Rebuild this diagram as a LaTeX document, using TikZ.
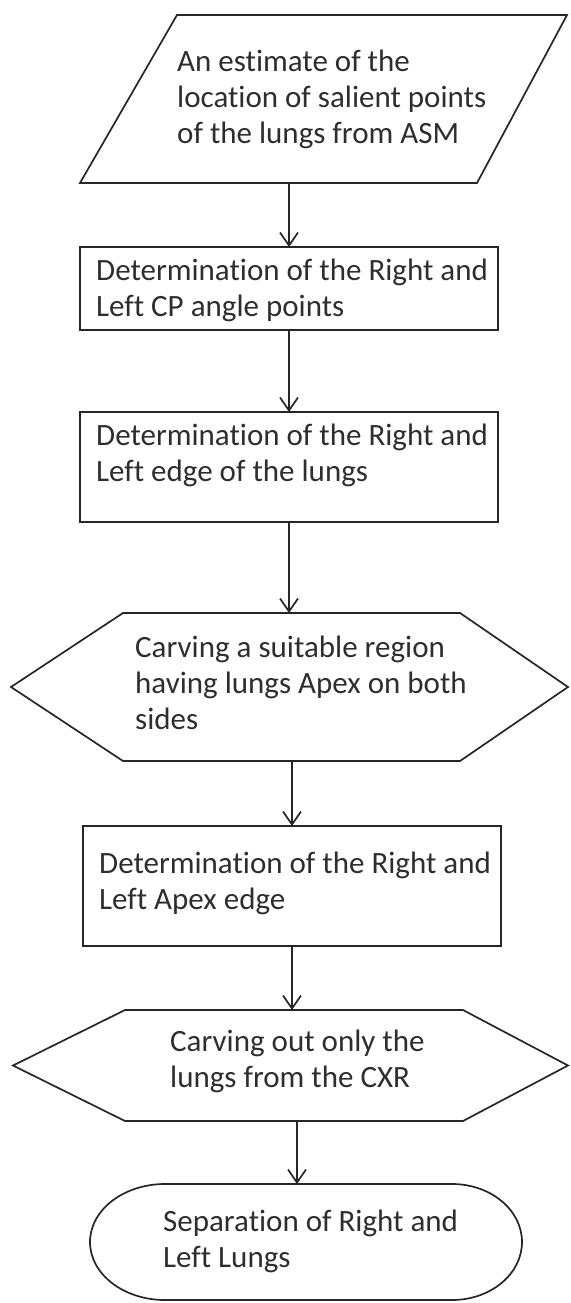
\documentclass[tikz,border=0pt]{standalone}
\usepackage{fontspec}
\setmainfont{Carlito}[Ligatures=NoCommon]
\usetikzlibrary{arrows.meta,calc}
\begin{document}
\begin{tikzpicture}[x=1pt,y=-1pt,
  outline/.style={draw=black!85, line width=1.7pt, line join=miter},
  frame/.style={inner sep=0pt, outer sep=0pt},
  txt/.style={anchor=west, align=left, inner sep=0pt, text=black!82, font=\fontsize{31}{36}\selectfont},
  flow/.style={draw=black!85, line width=1.7pt, -{Straight Barb[length=13pt,width=18pt]}}]
\useasboundingbox (0,0) rectangle (570,1303);

% shapes
\node[frame, minimum width=487pt, minimum height=168pt] (para) at (323.5,99) {};
\draw[outline] ($(para.north west)+(97,0)$) -- (para.north east) -- ($(para.south east)+(-90,0)$) -- (para.south west) -- cycle;

\node[frame, outline, minimum width=418pt, minimum height=83pt] (box1) at (289,288.5) {};
\node[frame, outline, minimum width=418pt, minimum height=110pt] (box2) at (289,467) {};

\node[frame, minimum width=557pt, minimum height=148pt] (hex1) at (289.5,687) {};
\draw[outline] ($(hex1.north west)+(112,0)$) -- ($(hex1.north east)+(-108,0)$) -- (hex1.east) -- ($(hex1.south east)+(-108,0)$) -- ($(hex1.south west)+(112,0)$) -- (hex1.west) -- cycle;

\node[frame, outline, minimum width=418pt, minimum height=120pt] (box3) at (292,886) {};

\node[frame, minimum width=555pt, minimum height=111pt] (hex2) at (290.5,1065.5) {};
\draw[outline] ($(hex2.north west)+(112,0)$) -- ($(hex2.north east)+(-105,0)$) -- (hex2.east) -- ($(hex2.south east)+(-105,0)$) -- ($(hex2.south west)+(112,0)$) -- (hex2.west) -- cycle;

\node[frame, minimum width=432pt, minimum height=116pt] (term) at (306,1242) {};
\draw[outline] ($(term.north west)+(75,0)$) -- ($(term.north east)+(-70,0)$)
  arc[start angle=90, end angle=-90, x radius=70pt, y radius=58pt]
  -- ($(term.south west)+(75,0)$)
  arc[start angle=270, end angle=90, x radius=75pt, y radius=58pt] -- cycle;

% texts
\node[txt] (t0) at (177,99) {An estimate of the\\location of salient points\\of the lungs from ASM};
\node[txt] (t1) at (96,290) {Determination of the Right and\\Left CP angle points};
\node[txt] (t2) at (96,455) {Determination of the Right and\\Left edge of the lungs};
\node[txt] (t3) at (135,683) {Carving a suitable region\\having lungs Apex on both\\sides};
\node[txt] (t4) at (99,883) {Determination of the Right and\\Left Apex edge};
\node[txt] (t5) at (170,1061) {Carving out only the\\lungs from the CXR};
\node[txt] (t6) at (163,1241) {Separation of Right and\\Left Lungs};

% connectors
\draw[flow] (para.south -| box1.north) -- (box1.north);
\draw[flow] (box1.south) -- (box2.north);
\draw[flow] (box2.south) -- (box2.south |- hex1.north);
\draw[flow] (hex1.south -| box3.north) -- (box3.north);
\draw[flow] (box3.south) -- (box3.south |- hex2.north);
\coordinate (c6) at ($(hex2.south)+(6.5,0)$);
\draw[flow] (c6) -- (c6 |- term.north);
\end{tikzpicture}
\end{document}
